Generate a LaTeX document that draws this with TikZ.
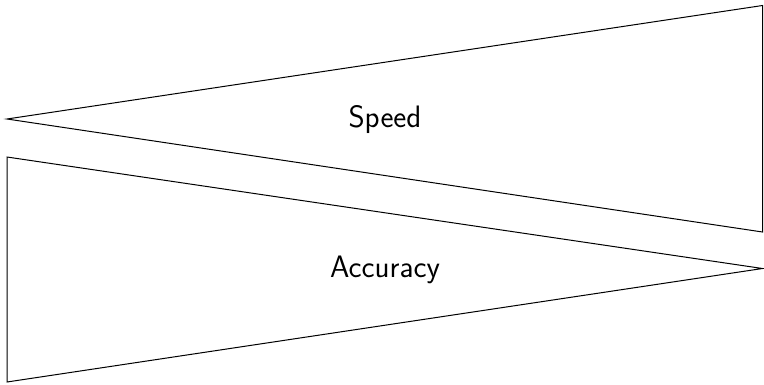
\documentclass[tikz,border=0pt]{standalone}
\usepackage{fontspec}
\tikzset{
  wedge/.style={draw=black, line width=1pt, line join=miter},
  lbl/.style={font=\sffamily\fontsize{31}{35}\selectfont, inner sep=0pt}
}
\begin{document}
\begin{tikzpicture}[x=1pt, y=-1pt]
\useasboundingbox (0,0) rectangle (764,384);
% top wedge (Speed)
\coordinate (st) at (7,119);
\coordinate (sa) at (762.5,5.5);
\coordinate (sb) at (762.5,232);
\draw[wedge] (st) -- (sa) -- (sb) -- cycle;
% bottom wedge (Accuracy)
\coordinate (aa) at (7,157);
\coordinate (ab) at (7,382);
\coordinate (at) at (762.5,268.5);
\draw[wedge] (aa) -- (at) -- (ab) -- cycle;
\node[lbl, anchor=base] (speed) at (385,127) {Speed};
\node[lbl, anchor=base] (acc) at (385,277) {Accuracy};
\end{tikzpicture}
\end{document}
